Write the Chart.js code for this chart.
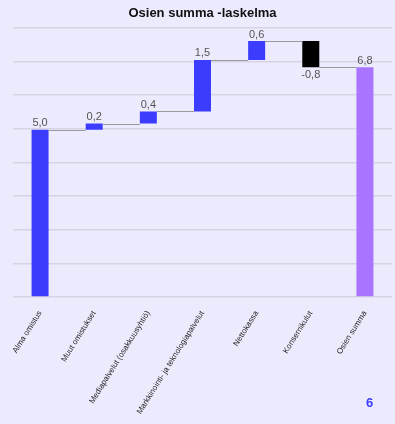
<!DOCTYPE html>
<html>
<head>
<meta charset="utf-8">
<script src="https://cdn.jsdelivr.net/npm/chart.js@4/dist/chart.umd.min.js"></script>
<style>
html,body{margin:0;padding:0;background:#ECEAFD;}
#wrap{position:relative;width:395px;height:424px;}
#pg{position:absolute;left:366px;top:395px;font:bold 13px "Liberation Sans",Arial,sans-serif;color:#3C3CFF;}
</style>
</head>
<body>
<div id="wrap"><canvas id="c" width="395" height="424"></canvas><div id="pg">6</div></div>
<script>
const categories = ["Alma omistus","Muut omistukset","Mediapalvelut (osakkuusyhtiö)","Markkinointi- ja teknologiapalvelut","Nettokassa","Konsernikulut","Osien summa"];
const deltas = [4.97, 0.18, 0.36, 1.53, 0.56, -0.78, 6.82];
const isTotal = [false, false, false, false, false, false, true];
const barColors = ["#3C3CFF","#3C3CFF","#3C3CFF","#3C3CFF","#3C3CFF","#000000","#A974FF"];

let run = 0;
const ranges = deltas.map((d, i) => {
  if (isTotal[i]) { return [0, d]; }
  const lo = run; run += d; return [lo, run];
});
const ends = ranges.map(r => r[1]);

const fmt = v => v.toFixed(1).replace('.', ',');

const waterfallPlugin = {
  id: 'waterfall',
  afterDatasetsDraw(chart) {
    const ctx = chart.ctx;
    const meta = chart.getDatasetMeta(0);
    const ys = chart.scales.y;
    ctx.save();
    ctx.strokeStyle = '#9a9a9a';
    ctx.lineWidth = 1;
    for (let i = 0; i < meta.data.length - 1; i++) {
      const a = meta.data[i], b = meta.data[i + 1];
      const y = Math.round(ys.getPixelForValue(ends[i])) + 0.5;
      ctx.beginPath();
      ctx.moveTo(a.x + a.width / 2, y);
      ctx.lineTo(b.x - b.width / 2, y);
      ctx.stroke();
    }
    ctx.font = '11px "Liberation Sans", Arial, sans-serif';
    ctx.fillStyle = '#555555';
    ctx.textAlign = 'center';
    meta.data.forEach((el, i) => {
      const d = deltas[i];
      if (d >= 0) {
        ctx.textBaseline = 'bottom';
        ctx.fillText(fmt(d), el.x, ys.getPixelForValue(ranges[i][1]) - 1);
      } else {
        ctx.textBaseline = 'top';
        ctx.fillText(fmt(d), el.x, ys.getPixelForValue(ranges[i][1]) + 2);
      }
    });
    ctx.restore();
  }
};

new Chart(document.getElementById('c'), {
  type: 'bar',
  data: {
    labels: categories,
    datasets: [{
      data: ranges,
      backgroundColor: barColors,
      borderWidth: 0,
      categoryPercentage: 1,
      barPercentage: 0.314
    }]
  },
  options: {
    responsive: false,
    animation: false,
    devicePixelRatio: 1,
    layout: { padding: { left: 13, right: 3, top: 0, bottom: 4 } },
    plugins: {
      legend: { display: false },
      tooltip: { enabled: false },
      title: {
        display: true,
        text: 'Osien summa -laskelma',
        color: '#111111',
        font: { family: '"Liberation Sans", Arial, sans-serif', size: 13, weight: 'bold' },
        padding: { top: 6, bottom: 6 }
      }
    },
    scales: {
      y: {
        min: 0, max: 8,
        ticks: { display: false, stepSize: 1 },
        grid: { color: '#D6D4E4', lineWidth: 1.5, drawTicks: false },
        border: { display: false }
      },
      x: {
        grid: { display: false },
        border: { display: false },
        ticks: {
          autoSkip: false,
          minRotation: 58, maxRotation: 58,
          color: '#222222',
          padding: 4,
          font: { family: '"Liberation Sans", Arial, sans-serif', size: 8 }
        }
      }
    }
  },
  plugins: [waterfallPlugin]
});
</script>
</body>
</html>
